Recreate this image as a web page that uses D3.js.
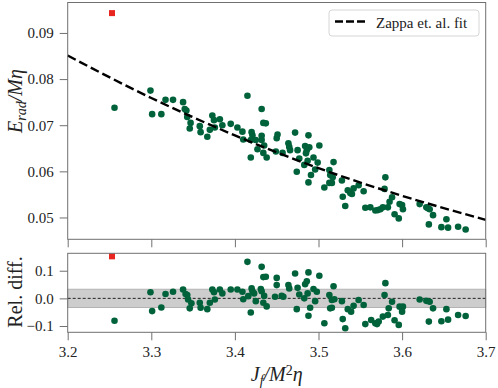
<!DOCTYPE html>
<html>
<head>
<meta charset="utf-8">
<script src="https://cdn.jsdelivr.net/npm/d3@7"></script>
<style>
  html, body { margin: 0; padding: 0; background: #fff; }
  svg text { font-family: "Liberation Serif", "DejaVu Serif", serif; fill: #222; }
</style>
</head>
<body>
<div id="chart"></div>
<script>
// fit curve
const jFit = [3.2, 3.3, 3.4, 3.5, 3.6, 3.7];
const eFit = [0.0851, 0.0759, 0.0678, 0.0607, 0.0547, 0.0495];

// top panel points (J_f/M^2 eta, E_rad/M eta)
const jTop = [3.256, 3.299, 3.301, 3.312, 3.317, 3.326, 3.338, 3.340, 3.342, 3.343, 3.347, 3.346,
  3.358, 3.359, 3.367, 3.370, 3.373, 3.375, 3.376, 3.382, 3.385, 3.395, 3.403, 3.409, 3.410, 3.415,
  3.419, 3.419, 3.420, 3.421, 3.425, 3.427, 3.432, 3.432, 3.432, 3.434, 3.437, 3.435, 3.434, 3.438,
  3.449, 3.451, 3.450, 3.457, 3.464, 3.465, 3.466, 3.472, 3.475, 3.474, 3.477, 3.483, 3.484, 3.486,
  3.485, 3.488, 3.489, 3.487, 3.488, 3.491, 3.494, 3.496, 3.499, 3.501, 3.507, 3.513, 3.514, 3.513,
  3.516, 3.517, 3.518, 3.528, 3.529, 3.532, 3.535, 3.538, 3.540, 3.542, 3.548, 3.554, 3.556, 3.562,
  3.568, 3.571, 3.574, 3.577, 3.580, 3.579, 3.583, 3.585, 3.588, 3.591, 3.596, 3.597, 3.600, 3.601,
  3.621, 3.629, 3.631, 3.633, 3.637, 3.632, 3.647, 3.655, 3.653, 3.667, 3.676];
const eRad = [0.0738, 0.0775, 0.0724, 0.0724, 0.0755, 0.0755, 0.0750, 0.0735, 0.0732, 0.0718, 0.0705, 0.0693,
  0.0698, 0.0685, 0.0675, 0.0690, 0.0721, 0.0711, 0.0695, 0.0713, 0.0700, 0.0703, 0.0695, 0.0686, 0.0669, 0.0764,
  0.0668, 0.0630, 0.0685, 0.0678, 0.0668, 0.0648, 0.0735, 0.0677, 0.0668, 0.0705, 0.0704, 0.0656, 0.0640, 0.0630,
  0.0643, 0.0680, 0.0672, 0.0640, 0.0661, 0.0653, 0.0646, 0.0684, 0.0646, 0.0599, 0.0628, 0.0614, 0.0655, 0.0646,
  0.0639, 0.0678, 0.0652, 0.0623, 0.0576, 0.0592, 0.0630, 0.0604, 0.0619, 0.0656, 0.0565, 0.0603, 0.0592, 0.0575,
  0.0575, 0.0587, 0.0620, 0.0580, 0.0545, 0.0525, 0.0559, 0.0553, 0.0551, 0.0563, 0.0570, 0.0557, 0.0521, 0.0522,
  0.0515, 0.0516, 0.0518, 0.0522, 0.0587, 0.0562, 0.0522, 0.0534, 0.0544, 0.0507, 0.0498, 0.0529, 0.0527, 0.0518,
  0.0529, 0.0522, 0.0520, 0.0518, 0.0505, 0.0485, 0.0479, 0.0478, 0.0496, 0.0480, 0.0474];

// bottom panel points (relative difference to the fit)
const jBot = [3.256, 3.299, 3.301, 3.312, 3.317, 3.326, 3.338, 3.341, 3.343, 3.344, 3.348, 3.346, 3.358,
  3.359, 3.367, 3.370, 3.373, 3.375, 3.376, 3.382, 3.385, 3.395, 3.403, 3.409, 3.410, 3.415, 3.416, 3.419,
  3.420, 3.421, 3.425, 3.423, 3.432, 3.434, 3.437, 3.431, 3.432, 3.435, 3.434, 3.438, 3.448, 3.450, 3.450,
  3.456, 3.458, 3.464, 3.465, 3.472, 3.475, 3.474, 3.477, 3.483, 3.484, 3.486, 3.487, 3.488, 3.488, 3.490,
  3.494, 3.496, 3.498, 3.501, 3.507, 3.513, 3.518, 3.516, 3.519, 3.514, 3.516, 3.528, 3.529, 3.532, 3.535,
  3.539, 3.542, 3.548, 3.554, 3.556, 3.563, 3.568, 3.570, 3.572, 3.577, 3.580, 3.579, 3.583, 3.584, 3.588,
  3.591, 3.596, 3.597, 3.601, 3.600, 3.621, 3.629, 3.633, 3.637, 3.632, 3.647, 3.655, 3.653, 3.667, 3.676];
const relDiff = [-0.081, 0.022, -0.046, -0.033, 0.016, 0.024, 0.032, 0.016, 0.012, -0.004, -0.018, -0.036, -0.016,
  -0.034, -0.039, -0.016, 0.032, 0.022, -0.004, 0.032, 0.018, 0.032, 0.032, 0.024, -0.003, 0.132, 0.008, -0.051,
  0.036, 0.026, -0.010, 0.018, 0.114, 0.077, 0.078, 0.034, 0.026, 0.009, -0.016, -0.029, 0.006, 0.074, 0.048,
  0.009, 0.006, 0.048, 0.036, 0.090, 0.038, -0.039, 0.014, 0.000, 0.051, 0.062, 0.018, 0.094, -0.063, -0.034,
  0.034, -0.010, 0.024, 0.082, -0.090, 0.012, 0.044, -0.006, -0.003, -0.036, -0.034, -0.010, -0.075, -0.108, -0.039,
  -0.048, -0.027, -0.006, -0.024, -0.093, -0.078, -0.090, -0.093, -0.084, -0.066, 0.055, 0.012, -0.060, -0.036, -0.012,
  -0.079, -0.096, -0.030, -0.030, -0.048, -0.004, -0.009, -0.012, -0.036, -0.084, -0.083, -0.077, -0.039, -0.060, -0.064];

// the one red outlier
const outlierJ = [3.253];
const outlierE = [0.0943];
const outlierRel = [0.152];

const bandHalf = 0.033;
const topTicks = [0.05, 0.06, 0.07, 0.08, 0.09];
const botTicks = [-0.1, 0.0, 0.1];
const xTicks = [3.2, 3.3, 3.4, 3.5, 3.6, 3.7];

const W = 498, H = 388;
const serif = '"Liberation Serif", "DejaVu Serif", serif';
const green = '#00623a', red = '#e8251f', spine = '#707070';

const svg = d3.select('#chart').append('svg').attr('width', W).attr('height', H);

const x = d3.scaleLinear().domain([3.2, 3.7]).range([67.7, 485.7]);
const yTop = d3.scaleLinear().domain([0.04527, 0.0966]).range([239.3, 2.5]);
const yBot = d3.scaleLinear().domain([-0.1227, 0.163]).range([332.3, 253.3]);

function styleAxis(g) {
  g.attr('font-family', serif).attr('font-size', 15);
  g.select('.domain').remove();
  g.selectAll('.tick line').attr('stroke', spine).attr('stroke-width', 1);
  g.selectAll('.tick text').style('font-family', serif).style('font-size', '15px').attr('fill', '#222');
}

function frame(top, bottom) {
  svg.append('rect')
    .attr('x', x.range()[0]).attr('y', top)
    .attr('width', x.range()[1] - x.range()[0]).attr('height', bottom - top)
    .attr('fill', 'none').attr('stroke', spine).attr('stroke-width', 1);
}

// ---- top panel ----
svg.append('g').attr('transform', `translate(${x.range()[0]},0)`)
  .call(d3.axisLeft(yTop).tickValues(topTicks).tickFormat(d3.format('.2f')).tickSize(8).tickPadding(6).tickSizeOuter(0))
  .call(styleAxis);
svg.append('g').attr('transform', `translate(0,${yTop.range()[0]})`)
  .call(d3.axisBottom(x).tickValues(xTicks).tickFormat('').tickSize(8).tickSizeOuter(0))
  .call(styleAxis);

const pts = jTop.map((j, i) => ({ j, e: eRad[i] }));
svg.append('g').selectAll('circle').data(pts).enter().append('circle')
  .attr('cx', d => x(d.j)).attr('cy', d => yTop(d.e)).attr('r', 3.3).attr('fill', green);

svg.append('g').selectAll('rect').data(outlierJ).enter().append('rect')
  .attr('x', (d) => x(d) - 3).attr('y', (d, i) => yTop(outlierE[i]) - 3)
  .attr('width', 6).attr('height', 6).attr('fill', red);

const fitLine = d3.line().x(d => x(d[0])).y(d => yTop(d[1])).curve(d3.curveMonotoneX);
svg.append('path').datum(jFit.map((j, i) => [j, eFit[i]]))
  .attr('d', fitLine).attr('fill', 'none').attr('stroke', '#000')
  .attr('stroke-width', 2.4).attr('stroke-dasharray', '9,4');

frame(yTop.range()[1], yTop.range()[0]);

// legend
const lg = svg.append('g').attr('transform', 'translate(329,10)');
lg.append('rect').attr('width', 150).attr('height', 26).attr('rx', 3)
  .attr('fill', '#fff').attr('stroke', '#d6d6d6');
lg.append('line').attr('x1', 6).attr('x2', 36).attr('y1', 11.5).attr('y2', 11.5)
  .attr('stroke', '#000').attr('stroke-width', 2.4).attr('stroke-dasharray', '8,3');
lg.append('text').attr('x', 47).attr('y', 17.5).style('font-size', '15px').text('Zappa et. al. fit');

// y label top
const yl = svg.append('text').attr('transform', 'translate(22,101) rotate(-90)')
  .attr('text-anchor', 'middle').style('font-size', '20px').style('font-style', 'italic');
yl.append('tspan').text('E');
yl.append('tspan').attr('baseline-shift', '-25%').style('font-size', '14px').text('rad');
yl.append('tspan').text('/Mη');

// ---- bottom panel ----
svg.append('rect')
  .attr('x', x.range()[0]).attr('width', x.range()[1] - x.range()[0])
  .attr('y', yBot(bandHalf)).attr('height', yBot(-bandHalf) - yBot(bandHalf))
  .attr('fill', '#cdcdcd').attr('stroke', '#b3b3b3').attr('stroke-width', 1);
svg.append('line')
  .attr('x1', x.range()[0]).attr('x2', x.range()[1])
  .attr('y1', yBot(0)).attr('y2', yBot(0))
  .attr('stroke', '#222').attr('stroke-width', 1).attr('stroke-dasharray', '3,2');

svg.append('g').attr('transform', `translate(${x.range()[0]},0)`)
  .call(d3.axisLeft(yBot).tickValues(botTicks).tickFormat(d => d3.format('.1f')(d).replace('-', '−')).tickSize(8).tickPadding(6).tickSizeOuter(0))
  .call(styleAxis);
svg.append('g').attr('transform', `translate(0,${yBot.range()[0]})`)
  .call(d3.axisBottom(x).tickValues(xTicks).tickFormat(d3.format('.1f')).tickSize(8).tickPadding(6).tickSizeOuter(0))
  .call(styleAxis);

const rel = jBot.map((j, i) => ({ j, r: relDiff[i] }));
svg.append('g').selectAll('circle').data(rel).enter().append('circle')
  .attr('cx', d => x(d.j)).attr('cy', d => yBot(d.r)).attr('r', 3.3).attr('fill', green);
svg.append('g').selectAll('rect').data(outlierJ).enter().append('rect')
  .attr('x', (d) => x(d) - 3).attr('y', (d, i) => yBot(outlierRel[i]) - 3)
  .attr('width', 6).attr('height', 6).attr('fill', red);

frame(yBot.range()[1], yBot.range()[0]);

svg.append('text').attr('transform', 'translate(22,292) rotate(-90)')
  .attr('text-anchor', 'middle').style('font-size', '20px').text('Rel. diff.');

// x label
const xl = svg.append('text').attr('x', x(3.45)).attr('y', 381)
  .attr('text-anchor', 'middle').style('font-size', '20px').style('font-style', 'italic');
xl.append('tspan').text('J');
xl.append('tspan').attr('baseline-shift', '-25%').style('font-size', '14px').text('f');
xl.append('tspan').text('/M');
xl.append('tspan').attr('baseline-shift', '40%').style('font-size', '14px').style('font-style', 'normal').text('2');
xl.append('tspan').text('η');
</script>
</body>
</html>
